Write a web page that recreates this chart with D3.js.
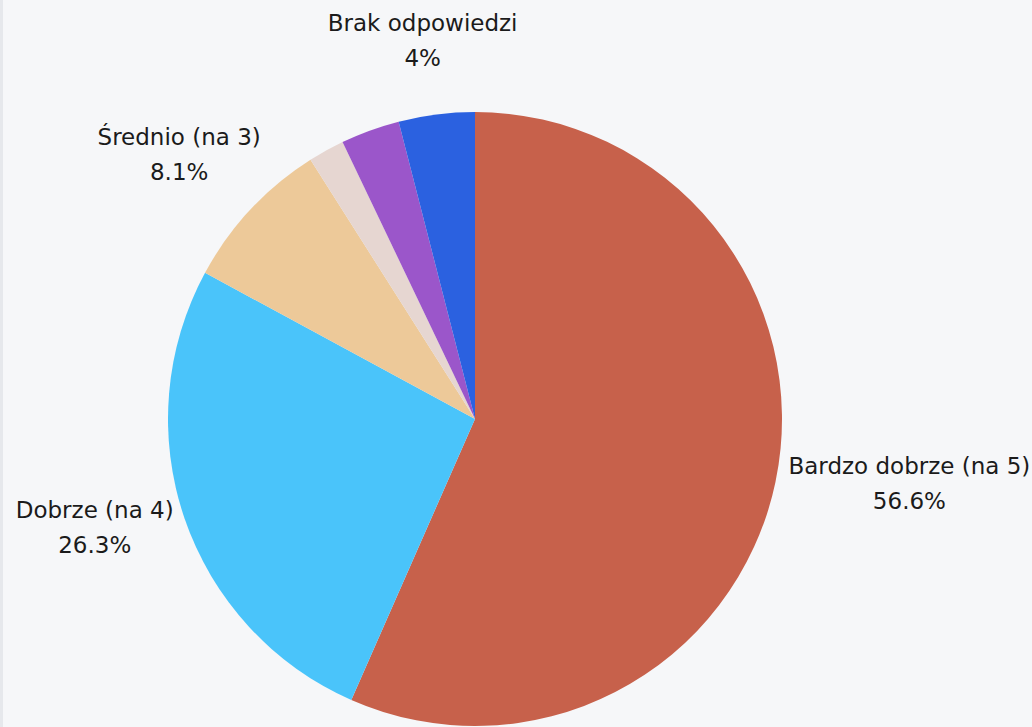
<!DOCTYPE html>
<html>
<head>
<meta charset="utf-8">
<script src="https://cdn.jsdelivr.net/npm/d3@7"></script>
<style>
  html, body { margin:0; padding:0; background:#f6f7f9; }
  #wrap { position:relative; width:1032px; height:727px; overflow:hidden; }
  #strip { position:absolute; left:0; top:0; width:3px; height:727px; background:#e6e8ec; }
  text { font-family:"DejaVu Sans", Verdana, sans-serif; fill:#1b1b1b; }
</style>
</head>
<body>
<div id="wrap"><div id="strip"></div><div id="chart"></div></div>
<script>
// dane z wykresu (procenty)
var categories = ["Bardzo dobrze (na 5)", "Dobrze (na 4)", "Średnio (na 3)", "Słabo (na 2)", "Bardzo słabo (na 1)", "Brak odpowiedzi"];
var values = [56.6, 26.3, 8.1, 1.9, 3.1, 4];
var colors = ["#c7614b", "#4ac4fa", "#edc999", "#e6d6d1", "#9b56ca", "#2b61e0"];

var fullWidth = 1032, fullHeight = 727;
var cx = 475, cy = 419, r = 307;
var labelMin = 3.5;      // mniejsze wycinki bez etykiety
var fontSize = 23, lineH = 35;

var svg = d3.select("#chart").append("svg")
    .attr("width", fullWidth)
    .attr("height", fullHeight);

var g = svg.append("g").attr("transform", "translate(" + cx + "," + cy + ")");

var data = categories.map(function(c, i){ return {name:c, value:values[i], color:colors[i]}; });

var pie = d3.pie().sort(null).value(function(d){ return d.value; });
var arc = d3.arc().innerRadius(0).outerRadius(r);

var arcs = pie(data);

g.selectAll("path.slice")
  .data(arcs)
  .enter().append("path")
  .attr("class", "slice")
  .attr("d", arc)
  .attr("fill", function(d){ return d.data.color; });

// etykiety na zewnatrz
var rx = 323, ry = 370;
var labels = g.selectAll("g.lab")
  .data(arcs.filter(function(d){ return d.data.value >= labelMin; }))
  .enter().append("g").attr("class", "lab");

labels.append("text")
  .attr("text-anchor", "middle")
  .attr("font-size", fontSize)
  .attr("y", -lineH / 2 + fontSize * 0.36)
  .text(function(d){ return d.data.name; });

labels.append("text")
  .attr("text-anchor", "middle")
  .attr("font-size", fontSize)
  .attr("y", lineH / 2 + fontSize * 0.36)
  .text(function(d){ return (+d.data.value.toFixed(1)) + "%"; });

labels.attr("transform", function(d){
  var a = (d.startAngle + d.endAngle) / 2;
  var w = 0;
  d3.select(this).selectAll("text").each(function(){ w = Math.max(w, this.getComputedTextLength()); });
  var x = Math.sin(a) * (rx + w / 2);
  var y = -Math.cos(a) * ry - 12;
  return "translate(" + x + "," + y + ")";
});
</script>
</body>
</html>
